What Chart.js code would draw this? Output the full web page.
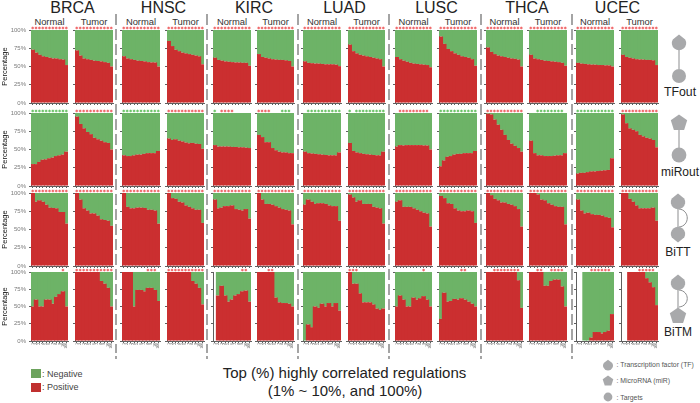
<!DOCTYPE html>
<html>
<head>
<meta charset="utf-8">
<title>Highly correlated regulations</title>
<script src="https://cdn.jsdelivr.net/npm/chart.js@4"></script>
<style>
  html, body { margin: 0; padding: 0; background: #fff; }
  #stage { position: relative; width: 700px; height: 403px; overflow: hidden; background: #fff; filter: blur(0.3px); }
  #stage canvas { position: absolute; display: block; }
  #overlay { position: absolute; left: 0; top: 0; }
  #overlay text { font-family: 'Liberation Sans', Arial, sans-serif; }
</style>
</head>
<body>
<div id="stage"><svg id="overlay" width="700" height="403" xmlns="http://www.w3.org/2000/svg"></svg></div>
<script>
/* ─── DATA ─── */
const CANCERS = ['BRCA', 'HNSC', 'KIRC', 'LUAD', 'LUSC', 'THCA', 'UCEC'];
const STATES = ['Normal', 'Tumor'];
const MOTIFS = ['TFout', 'miRout', 'BiTT', 'BiTM'];
const TOPS = ['1', '2', '3', '4', '5', '6', '7', '8', '9', '10', '100'];
const Y_TICKS = [0, 25, 50, 75, 100];

// one line per panel: BRCA normal, BRCA tumor, HNSC normal, ...
const tfoutPositive = [
  [73, 69, 66, 64, 63, 62, 61, 61, 60, 59.5, 52],
  [72, 65, 61, 60, 59, 58, 57.5, 57, 56, 55, 50],
  [64, 61, 60, 59, 58, 57.5, 57, 56, 55.5, 55.5, 50],
  [85, 78, 73, 71, 69, 68, 67, 66, 65, 64, 53],
  [62, 59, 58, 57, 56.5, 56, 55.5, 55.5, 55, 55, 51],
  [67, 63, 62, 61, 60, 59.5, 59, 59, 58.5, 57.5, 50],
  [57, 55, 54.5, 54, 54, 53.5, 53, 53, 53, 52.5, 50.5],
  [80, 71, 68, 66, 65, 64, 63, 62, 61, 60, 50],
  [63, 60, 58, 56.5, 55, 54, 53.5, 53, 52.5, 52, 49],
  [91, 81, 74, 71, 68, 66, 64, 63, 62, 60, 51],
  [76, 70, 67, 65, 64, 63, 62, 61, 60.5, 59.5, 50],
  [66, 61, 60, 59, 58, 57.5, 57, 56.5, 56, 55, 51],
  [55, 54, 53.5, 53, 52.5, 52.5, 52, 52, 51.5, 51.5, 50],
  [66, 63, 62, 61, 60, 59.5, 59.5, 59, 59, 58.5, 52]
];
const tfoutNegative = [
  [27, 31, 34, 36, 37, 38, 39, 39, 40, 40.5, 48],
  [28, 35, 39, 40, 41, 42, 42.5, 43, 44, 45, 50],
  [36, 39, 40, 41, 42, 42.5, 43, 44, 44.5, 44.5, 50],
  [15, 22, 27, 29, 31, 32, 33, 34, 35, 36, 47],
  [38, 41, 42, 43, 43.5, 44, 44.5, 44.5, 45, 45, 49],
  [33, 37, 38, 39, 40, 40.5, 41, 41, 41.5, 42.5, 50],
  [43, 45, 45.5, 46, 46, 46.5, 47, 47, 47, 47.5, 49.5],
  [20, 29, 32, 34, 35, 36, 37, 38, 39, 40, 50],
  [37, 40, 42, 43.5, 45, 46, 46.5, 47, 47.5, 48, 51],
  [9, 19, 26, 29, 32, 34, 36, 37, 38, 40, 49],
  [24, 30, 33, 35, 36, 37, 38, 39, 39.5, 40.5, 50],
  [34, 39, 40, 41, 42, 42.5, 43, 43.5, 44, 45, 49],
  [45, 46, 46.5, 47, 47.5, 47.5, 48, 48, 48.5, 48.5, 50],
  [34, 37, 38, 39, 40, 40.5, 40.5, 41, 41, 41.5, 48]
];
const miroutPositive = [
  [30, 30, 33, 36, 36.5, 38, 39, 41, 42, 43, 47],
  [95, 85, 79, 74, 71, 66, 64, 62, 60, 59, 50],
  [42, 41, 41, 42, 43, 43, 44, 45, 45, 45, 48],
  [65, 63, 64, 62, 61, 59.5, 58.5, 59, 58, 57.5, 51],
  [56, 54, 54, 54, 54, 53.5, 53.5, 53, 53, 52.5, 52],
  [70, 67, 60, 60, 52, 49, 47, 46, 46, 45, 45],
  [47, 45, 44.5, 44, 43.5, 43, 42.5, 42, 42, 42, 46],
  [59, 48, 46, 45, 44, 43.5, 43, 42.5, 42, 42, 47],
  [54, 56, 55.5, 56, 56, 56, 56, 56, 55.5, 55.5, 50],
  [27, 35, 40, 41, 43, 44, 44, 45, 45, 45, 48],
  [99, 98, 91, 84, 77, 70, 63, 58, 55, 52, 47],
  [62, 45, 42, 42, 41, 41, 41, 41.5, 42, 42, 45],
  [17, 18, 18, 19, 20, 20, 20.5, 21, 21.5, 22, 38],
  [98, 86, 79, 77, 75, 70, 68, 66, 65, 63, 53]
];
const miroutNegative = [
  [70, 70, 67, 64, 63.5, 62, 61, 59, 58, 57, 53],
  [5, 15, 21, 26, 29, 34, 36, 38, 40, 41, 50],
  [58, 59, 59, 58, 57, 57, 56, 55, 55, 55, 52],
  [35, 37, 36, 38, 39, 40.5, 41.5, 41, 42, 42.5, 49],
  [44, 46, 46, 46, 46, 46.5, 46.5, 47, 47, 47.5, 48],
  [30, 33, 40, 40, 48, 51, 53, 54, 54, 55, 55],
  [53, 55, 55.5, 56, 56.5, 57, 57.5, 58, 58, 58, 54],
  [41, 52, 54, 55, 56, 56.5, 57, 57.5, 58, 58, 53],
  [46, 44, 44.5, 44, 44, 44, 44, 44, 44.5, 44.5, 50],
  [73, 65, 60, 59, 57, 56, 56, 55, 55, 55, 52],
  [1, 2, 9, 16, 23, 30, 37, 42, 45, 48, 53],
  [38, 55, 58, 58, 59, 59, 59, 58.5, 58, 58, 55],
  [83, 82, 82, 81, 80, 80, 79.5, 79, 78.5, 78, 62],
  [2, 14, 21, 23, 25, 30, 32, 34, 35, 37, 47]
];
const bittPositive = [
  [100, 88, 90, 88, 84, 80, 79.5, 79, 74, 74, 58],
  [100, 91, 79, 76, 72, 72, 69, 64, 63, 62, 55],
  [100, 81, 79, 79, 80, 80, 79.5, 77, 77, 76, 58],
  [100, 93, 92, 88, 87, 83, 81, 79, 77, 77, 59],
  [91, 79, 80, 82, 82, 83, 78, 77, 76, 78, 65],
  [100, 91, 85, 85, 84, 82, 80, 78, 77, 76, 57],
  [84, 91, 88, 85, 86, 86, 85, 83, 82, 82, 62],
  [98, 94, 88, 90, 85, 85, 85, 81, 80, 79, 58],
  [88, 90, 81, 81, 81, 79, 77, 75, 73, 72, 54],
  [96, 93, 86, 85, 79, 76, 75, 75, 76, 75, 59],
  [100, 97, 92, 90, 87, 87, 85, 84, 82, 78, 54],
  [100, 100, 98, 91, 90, 86, 84, 82, 81, 81, 57],
  [91, 76, 72, 73, 71, 70, 70, 69, 67, 66, 53],
  [100, 100, 92, 88, 83, 79, 79, 79, 79, 80, 62]
];
const bittNegative = [
  [0, 12, 10, 12, 16, 20, 20.5, 21, 26, 26, 42],
  [0, 9, 21, 24, 28, 28, 31, 36, 37, 38, 45],
  [0, 19, 21, 21, 20, 20, 20.5, 23, 23, 24, 42],
  [0, 7, 8, 12, 13, 17, 19, 21, 23, 23, 41],
  [9, 21, 20, 18, 18, 17, 22, 23, 24, 22, 35],
  [0, 9, 15, 15, 16, 18, 20, 22, 23, 24, 43],
  [16, 9, 12, 15, 14, 14, 15, 17, 18, 18, 38],
  [2, 6, 12, 10, 15, 15, 15, 19, 20, 21, 42],
  [12, 10, 19, 19, 19, 21, 23, 25, 27, 28, 46],
  [4, 7, 14, 15, 21, 24, 25, 25, 24, 25, 41],
  [0, 3, 8, 10, 13, 13, 15, 16, 18, 22, 46],
  [0, 0, 2, 9, 10, 14, 16, 18, 19, 19, 43],
  [9, 24, 28, 27, 29, 30, 30, 31, 33, 34, 47],
  [0, 0, 8, 12, 17, 21, 21, 21, 21, 20, 38]
];
const bitmPositive = [
  [50, 60, 50, 50, 60, 60, 54, 64, 68, 72, 50],
  [100, 100, 100, 100, 100, 100, 100, 87, 83, 77, 50],
  [100, 100, 100, 50, 74, 74, 72, 77, 77, 74, 58],
  [100, 100, 100, 100, 100, 100, 100, 87, 83, 77, 53],
  [null, 66, 80, 66, 57, 60, 66, 68, 72, 73, 57],
  [100, 100, 100, 100, 100, 63, 56, 55, 55, 54, 50],
  [0, 24, 20, 50, 48, 54, 50, 55, 50, 55, 44],
  [100, 83, 83, 69, 56, 56, 56, 53, 47, 45, 47],
  [50, 66, 60, 50, 50, 63, 60, 62, 65, 60, 50],
  [32, 70, 57, 58, 61, 60, 62, 60, 57, 54, 50],
  [100, 100, 100, 100, 100, 100, 100, 100, 100, 88, 48],
  [100, 100, 100, 100, 80, 80, 87, 89, 89, 79, 50],
  [null, null, 0, 0, 5, 13, 13, 11, 13, 15, 39],
  [null, null, 100, 100, 100, 100, 100, 91, 85, 78, 52]
];
const bitmNegative = [
  [50, 40, 50, 50, 40, 40, 46, 36, 32, 28, 50],
  [0, 0, 0, 0, 0, 0, 0, 13, 17, 23, 50],
  [0, 0, 0, 50, 26, 26, 28, 23, 23, 26, 42],
  [0, 0, 0, 0, 0, 0, 0, 13, 17, 23, 47],
  [null, 34, 20, 34, 43, 40, 34, 32, 28, 27, 43],
  [0, 0, 0, 0, 0, 37, 44, 45, 45, 46, 50],
  [100, 76, 80, 50, 52, 46, 50, 45, 50, 45, 56],
  [0, 17, 17, 31, 44, 44, 44, 47, 53, 55, 53],
  [50, 34, 40, 50, 50, 37, 40, 38, 35, 40, 50],
  [68, 30, 43, 42, 39, 40, 38, 40, 43, 46, 50],
  [0, 0, 0, 0, 0, 0, 0, 0, 0, 12, 52],
  [0, 0, 0, 0, 20, 20, 13, 11, 11, 21, 50],
  [null, null, 100, 100, 95, 87, 87, 89, 87, 85, 61],
  [null, null, 0, 0, 0, 0, 0, 9, 15, 22, 48]
];

// significance marks over each bar: P = positive, N = negative, . = none
const tfoutStars = Array(14).fill('PPPPPPPPPPP');
const miroutStars = [
  'NNNNNNNNNNN', 'PPPPPPPPPPP', 'NNNNNNNNNNN', 'PPPPPPPPPPP',
  'N.PPPP.....', 'PPPP...NNN.', '.NNNNNNNNNN', 'N.NNNNNNNNN',
  '.PPPPPPPPP.', 'NNNNNNNNNNN', 'PPPPPPPPPPP', '..NNNNNNNN.',
  'NNNNNNNNNNN', 'PPPPPPPPPPP'
];
const bittStars = Array(14).fill('PPPPPPPPPPP');
const bitmStars = [
  '.........P.', 'PPPPPPPPPPP', '.......PPP.', 'PPPPPPPPPPP',
  '........PP.', '...PP......', '...........', 'PPP........',
  '........P..', '......PP...', '..PPPPPPPP.', '..PP..PPPP.',
  '....PPPPPP.', '.....PPPPP.'
];

/* ─── LAYOUT ─── */
const RED = '#cb2f30';
const GREEN = '#6db367';
const AXIS = '#5f5f5f';
const FONT = "'Liberation Sans', Arial, sans-serif";
const STAR_LEVEL = 102.8;

const PANEL_X = [
  [31, 68], [75, 113], [122, 160], [167, 204], [213, 251], [257, 294], [303, 341],
  [348, 385], [395, 432], [439, 477], [486, 523], [529, 567], [576, 614], [621, 658]
];
const ROW_Y = [[30, 103], [113, 186], [193, 266], [272, 341]];
const DIVIDERS = [116, 207, 298, 389, 481, 572];

const ROWS = [
  { pos: tfoutPositive, neg: tfoutNegative, stars: tfoutStars },
  { pos: miroutPositive, neg: miroutNegative, stars: miroutStars },
  { pos: bittPositive, neg: bittNegative, stars: bittStars },
  { pos: bitmPositive, neg: bitmNegative, stars: bitmStars }
];

/* ─── PANELS ─── */
function drawPanel(row, col) {
  const first = col === 0;
  const last = row === ROWS.length - 1;
  const axisW = first ? PANEL_X[0][0] : 4;
  const axisH = last ? 10 : 3;
  const padTop = 4;
  const padRight = 3;
  const [xl, xr] = PANEL_X[col];
  const [yt, yb] = ROW_Y[row];

  const canvas = document.createElement('canvas');
  canvas.width = xr - xl + axisW + padRight;
  canvas.height = yb - yt + padTop + axisH;
  canvas.style.left = (xl - axisW) + 'px';
  canvas.style.top = (yt - padTop) + 'px';
  document.getElementById('stage').appendChild(canvas);

  const marks = ROWS[row].stars[col].split('');

  new Chart(canvas, {
    type: 'bar',
    data: {
      labels: TOPS,
      datasets: [
        {
          label: 'Significance',
          type: 'line',
          showLine: false,
          clip: false,
          borderWidth: 0,
          data: marks.map(m => (m === '.' ? null : STAR_LEVEL)),
          pointStyle: 'star',
          pointRadius: 1.4,
          pointHoverRadius: 1.4,
          pointBorderWidth: 0.7,
          pointBorderColor: marks.map(m => (m === 'N' ? '#5fbf5a' : '#ee5a5c'))
        },
        { label: 'Positive', data: ROWS[row].pos[col], backgroundColor: RED },
        { label: 'Negative', data: ROWS[row].neg[col], backgroundColor: GREEN }
      ]
    },
    options: {
      responsive: false,
      animation: false,
      devicePixelRatio: 1,
      layout: { padding: { top: padTop, right: padRight, bottom: 0, left: 0 } },
      plugins: { legend: { display: false }, tooltip: { enabled: false } },
      // a bit wider than the slot, the fractional widths leave seams otherwise
      datasets: { bar: { barPercentage: 1.35, categoryPercentage: 1, borderWidth: 0 } },
      scales: {
        x: {
          stacked: true,
          border: { color: AXIS, width: 1 },
          grid: { drawOnChartArea: false, tickColor: AXIS, tickLength: 2, offset: false },
          afterFit: s => { s.height = axisH; s.paddingLeft = 0; s.paddingRight = 0; },
          ticks: {
            display: last,
            autoSkip: false,
            minRotation: 90,
            maxRotation: 90,
            padding: 0,
            color: '#555',
            font: { size: 3.3, family: FONT }
          }
        },
        y: {
          stacked: true,
          min: 0,
          max: 100,
          border: { color: AXIS, width: 1 },
          grid: { drawOnChartArea: false, tickColor: AXIS, tickLength: 2 },
          afterBuildTicks: s => { s.ticks = Y_TICKS.map(value => ({ value })); },
          afterFit: s => { s.width = axisW; s.paddingTop = 0; s.paddingBottom = 0; },
          title: {
            display: first,
            text: 'Percentage',
            color: '#111',
            padding: 0,
            font: { size: 7.5, family: FONT }
          },
          ticks: {
            display: first,
            padding: 3,
            color: '#7a7a7a',
            font: { size: 6, family: FONT },
            callback: v => v + '%'
          }
        }
      }
    }
  });
}

ROWS.forEach((r, row) => PANEL_X.forEach((p, col) => drawPanel(row, col)));

/* ─── TEXT AND ICONS ─── */
const svg = [];
function label(txt, x, y, size, fill, anchor) {
  svg.push(`<text x="${x}" y="${y}" font-size="${size}" fill="${fill}" text-anchor="${anchor || 'middle'}">${txt}</text>`);
}
const GLYPH = '#a8a9ab';
function circle(x, y, r) {
  svg.push(`<circle cx="${x}" cy="${y}" r="${r}" fill="${GLYPH}"/>`);
}
function drop(x, y, s, flip) {
  const d = flip ? -1 : 1;
  svg.push(`<path d="M${x},${y - 8.6 * s * d} L${x + 6.2 * s},${y - 3.6 * s * d} A${7.2 * s},${7.2 * s} 0 1 ${flip ? 0 : 1} ${x - 6.2 * s},${y - 3.6 * s * d} Z" fill="${GLYPH}"/>`);
}
function pentagon(x, y, r) {
  const pts = [0, 1, 2, 3, 4].map(i => {
    const a = -Math.PI / 2 + i * 2 * Math.PI / 5;
    return (x + r * Math.cos(a)).toFixed(1) + ',' + (y + r * Math.sin(a)).toFixed(1);
  });
  svg.push(`<polygon points="${pts.join(' ')}" fill="${GLYPH}"/>`);
}
function link(x, y1, y2, arc) {
  svg.push(`<line x1="${x}" y1="${y1}" x2="${x}" y2="${y2}" stroke="#8c8d8f" stroke-width="1"/>`);
  if (arc) {
    svg.push(`<path d="M${x + 1},${y1 + 1} C${x + 12},${y1 + 2} ${x + 12},${y2 - 2} ${x + 1},${y2 - 1}" fill="none" stroke="#8c8d8f" stroke-width="1"/>`);
  }
}

DIVIDERS.forEach(x => {
  svg.push(`<line x1="${x}" y1="14" x2="${x}" y2="353" stroke="#8e8e8e" stroke-width="1.6" stroke-dasharray="11 4"/>`);
  svg.push(`<line x1="${x}" y1="356" x2="${x}" y2="359" stroke="#8e8e8e" stroke-width="1.6"/>`);
});

CANCERS.forEach((name, i) => {
  const n = PANEL_X[i * 2], t = PANEL_X[i * 2 + 1];
  label(name, (n[0] + t[1]) / 2 + 0.5, 12.6, 16, '#222');
  label(STATES[0], (n[0] + n[1]) / 2, 24.6, 9.4, '#333');
  label(STATES[1], (t[0] + t[1]) / 2, 24.6, 9.4, '#333');
});

link(679, 50, 69);
drop(679, 43, 1);
circle(679, 76, 7);
label(MOTIFS[0], 680, 96, 12.3, '#222');

link(679, 130, 148);
pentagon(679, 123, 8.6);
circle(679, 155, 7.4);
label(MOTIFS[1], 680, 175.7, 12, '#222');

link(678, 208, 228, true);
drop(678, 202, 1);
drop(678, 234, 1, true);
label(MOTIFS[2], 678, 256, 12, '#222');

link(678, 289, 308, true);
drop(678, 283, 1);
pentagon(678, 316, 8.6);
label(MOTIFS[3], 678, 335.7, 12, '#222');

label('Top (%) highly correlated regulations', 344.5, 378, 15, '#222');
label('(1% ~ 10%, and 100%)', 345, 395.7, 15, '#222');

svg.push('<rect x="31" y="369" width="10" height="9" fill="#6ca35d"/>');
svg.push('<rect x="31" y="383" width="10" height="9" fill="#c0302f"/>');
label(': Negative', 42, 376.7, 9, '#444', 'start');
label(': Positive', 42, 390, 9, '#444', 'start');

drop(608, 365.5, 0.68);
pentagon(608, 381, 5.6);
circle(608, 397, 4.4);
label(': Transcription factor (TF)', 616.5, 367.4, 6.9, '#555', 'start');
label(': MicroRNA (miR)', 616.5, 383.4, 6.9, '#555', 'start');
label(': Targets', 616.5, 400, 6.9, '#555', 'start');

document.getElementById('overlay').innerHTML = svg.join('');
</script>
</body>
</html>
